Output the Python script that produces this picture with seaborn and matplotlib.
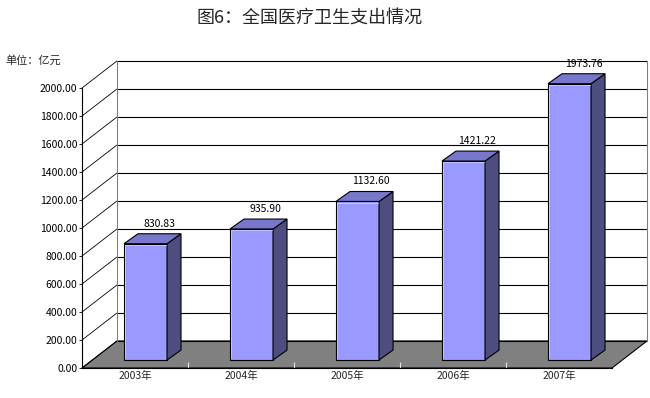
import numpy as np
import matplotlib
matplotlib.use("Agg")
import matplotlib.pyplot as plt
from matplotlib.patches import Polygon
import seaborn as sns

# data
years = ['2003年', '2004年', '2005年', '2006年', '2007年']
spending = [830.83, 935.90, 1132.60, 1421.22, 1973.76]
ytick_values = [0, 200, 400, 600, 800, 1000, 1200, 1400, 1600, 1800, 2000]

sns.set_style("white")
plt.rcParams['font.family'] = ['Noto Sans CJK SC', 'DejaVu Sans']

# fake 3d geometry (in data units)
depth_dx, depth_dy = 0.33, 193      # depth of the floor / side wall
bar_w = 0.406
bar_dx, bar_dy = 0.099, 57          # bar front face sits a bit inside the floor
side_dx, side_dy = 0.132, 71        # bar depth

fig = plt.figure(figsize=(6.5, 3.98), dpi=100)
ax = fig.add_axes([82 / 650, 30 / 398, 565 / 650, 309 / 398])

sns.barplot(x=years, y=spending, order=years, width=bar_w, color='#9999FF',
            saturation=1, edgecolor='black', linewidth=0.8, ax=ax, zorder=3)
bars = list(ax.patches)

x_right = len(years) - 0.5 + depth_dx
ax.set_xlim(-0.5, x_right)
ax.set_ylim(0, 2207)

# floor
floor = Polygon([(-0.5, 0), (len(years) - 0.5, 0), (x_right, depth_dy),
                 (-0.5 + depth_dx, depth_dy)], closed=True,
                facecolor='#808080', edgecolor='black', linewidth=0.8,
                zorder=1, clip_on=False)
ax.add_patch(floor)

# category separators on the floor edge
ax.vlines(np.arange(0.5, len(years) - 0.5, 1), 0, 40, colors='#E0E0E0',
          lw=0.8, zorder=1.2)

# back wall grid + side wall diagonals
for v in ytick_values:
    ax.plot([-0.5, -0.5 + depth_dx], [v, v + depth_dy], color='black',
            lw=0.6, zorder=1.5, clip_on=False)
    ax.plot([-0.5 + depth_dx, x_right], [v + depth_dy, v + depth_dy],
            color='black', lw=0.8, zorder=1.5, clip_on=False)
ax.plot([-0.5 + depth_dx] * 2, [depth_dy, 2000 + depth_dy], color='#808080',
        lw=0.8, zorder=1.5, clip_on=False)
ax.plot([x_right] * 2, [depth_dy, 2000 + depth_dy], color='#808080',
        lw=0.8, zorder=1.5, clip_on=False)

# bars: shift front face, add side and top faces
for i, (p, v) in enumerate(zip(bars, spending)):
    p.set_x(p.get_x() + bar_dx)
    p.set_y(p.get_y() + bar_dy)
    x0, x1 = p.get_x(), p.get_x() + p.get_width()
    y0, y1 = p.get_y(), p.get_y() + p.get_height()
    side = Polygon([(x1, y0), (x1, y1), (x1 + side_dx, y1 + side_dy),
                    (x1 + side_dx, y0 + side_dy)], closed=True,
                   facecolor='#4D4D80', edgecolor='black', linewidth=0.8, zorder=3)
    top = Polygon([(x0, y1), (x1, y1), (x1 + side_dx, y1 + side_dy),
                   (x0 + side_dx, y1 + side_dy)], closed=True,
                  facecolor='#7777CC', edgecolor='black', linewidth=0.8, zorder=3)
    ax.add_patch(side)
    ax.add_patch(top)
    # light inner highlight on the front face
    ax.plot([x0 + 0.012, x0 + 0.012, x1 - 0.01], [y0 + 12, y1 - 8, y1 - 8],
            color='#CCCCFF', lw=0.6, zorder=3.5)
    ax.text(i + 0.23, v + 200, f'{v:.2f}', ha='center', va='center',
            fontsize=7.5, color='black')

# axes styling
for s in ['top', 'right']:
    ax.spines[s].set_visible(False)
ax.spines['left'].set_bounds(0, 2000)
ax.spines['bottom'].set_bounds(-0.5, len(years) - 0.5)
for s in ['left', 'bottom']:
    ax.spines[s].set_color('black')
    ax.spines[s].set_linewidth(0.8)
    ax.spines[s].set_zorder(4)

ax.set_yticks(ytick_values)
ax.set_yticklabels([f'{v:.2f}' for v in ytick_values], fontsize=7.5)
ax.tick_params(axis='y', direction='out', length=2.5, width=0.6, pad=1,
               colors='black', left=True)
ax.set_xticks(range(len(years)))
ax.set_xticklabels(years, fontsize=7.5)
ax.tick_params(axis='x', length=0, pad=2)
ax.set_xlabel('')
ax.set_ylabel('')
ax.grid(False)

fig.text(310 / 650, 1 - 18 / 398, '图6：全国医疗卫生支出情况', ha='center',
         va='center', fontsize=13)
fig.text(5 / 650, 1 - 60 / 398, '单位：亿元', ha='left', va='center', fontsize=8)

fig.savefig('out.png', dpi=100)
